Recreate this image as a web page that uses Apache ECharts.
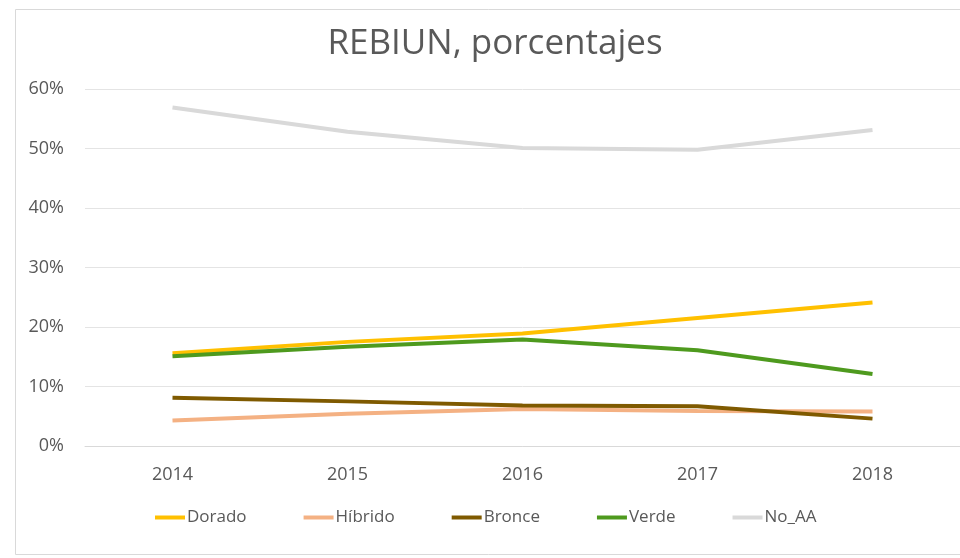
<!DOCTYPE html>
<html>
<head>
<meta charset="utf-8">
<script src="https://cdn.jsdelivr.net/npm/echarts@6/dist/echarts.min.js"></script>
<style>
  html, body { margin: 0; padding: 0; background: #fff; }
  #main { width: 960px; height: 558px; }
</style>
</head>
<body>
<div id="main"></div>
<script>
// datos
const years = ["2014", "2015", "2016", "2017", "2018"];
const dorado = [15.6, 17.5, 18.9, 21.5, 24.1];
const hibrido = [4.3, 5.4, 6.2, 5.9, 5.8];
const bronce = [8.1, 7.5, 6.8, 6.7, 4.6];
const verde = [15.1, 16.7, 17.9, 16.1, 12.1];
const noAA = [56.9, 52.8, 50.1, 49.8, 53.1];
const yTicks = [0, 10, 20, 30, 40, 50, 60];

const txt = "#595959";
const font = "'Open Sans', 'Noto Sans', sans-serif";

let myChart = echarts.init(document.getElementById("main"));

function serie(name, data, color) {
  return {
    name: name,
    type: "line",
    data: data,
    symbol: "none",
    lineStyle: { width: 4, color: color },
    itemStyle: { color: color },
    emphasis: { disabled: true }
  };
}

let option = {
  animation: false,
  textStyle: { fontFamily: font },
  graphic: [
    {
      type: "rect",
      shape: { x: 15.5, y: 9.5, width: 960, height: 545 },
      style: { fill: "none", stroke: "#d9d9d9", lineWidth: 1 },
      z: -1
    }
  ],
  title: {
    text: "REBIUN, porcentajes",
    left: 490,
    textAlign: "center",
    top: 22,
    textStyle: { fontSize: 35, fontWeight: "normal", color: txt, fontFamily: font }
  },
  legend: {
    left: 150,
    top: 504,
    icon: "rect",
    itemWidth: 30,
    itemHeight: 4,
    itemGap: 57,
    textStyle: { fontSize: 17, color: txt, fontFamily: font, padding: [0, 0, 0, -3] },
    data: ["Dorado", "Híbrido", "Bronce", "Verde", "No_AA"]
  },
  grid: { left: 85, right: 0, top: 89, bottom: 558 - 446 },
  xAxis: {
    type: "category",
    data: years,
    boundaryGap: true,
    axisLine: { show: true, lineStyle: { color: "#d9d9d9", width: 1 } },
    axisTick: { show: false },
    axisLabel: { fontSize: 18, color: txt, margin: 20 }
  },
  yAxis: {
    type: "value",
    min: yTicks[0],
    max: yTicks[yTicks.length - 1],
    interval: 10,
    axisLine: { show: false },
    axisTick: { show: false },
    axisLabel: { fontSize: 18, color: txt, margin: 21, formatter: "{value}%" },
    splitLine: { lineStyle: { color: "#e4e4e4", width: 1 } }
  },
  series: [
    serie("Dorado", dorado, "#ffc000"),
    serie("Híbrido", hibrido, "#f4b183"),
    serie("Bronce", bronce, "#7f5a00"),
    serie("Verde", verde, "#4e9a1e"),
    serie("No_AA", noAA, "#d9d9d9")
  ]
};

myChart.setOption(option);
</script>
</body>
</html>
